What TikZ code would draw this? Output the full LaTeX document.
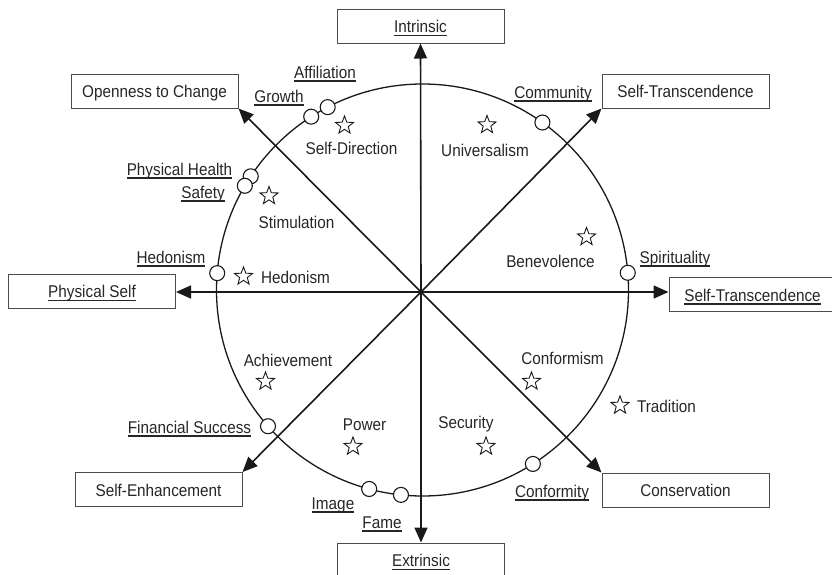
\documentclass[tikz,border=0pt]{standalone}
\usepackage{fontspec}
\setmainfont{Liberation Sans}[FakeStretch=0.9]
\usetikzlibrary{arrows.meta,shapes.geometric,calc}
\newcommand\ulab[1]{\sbox0{#1}\rlap{\rule[-3.7pt]{\wd0}{1.5pt}}\usebox0}
\begin{document}
\begin{tikzpicture}[x=1pt,y=-1pt,
  every node/.style={font=\fontsize{17}{20}\selectfont, text=black!85},
  box/.style={draw=black!70, line width=1pt, minimum width=167pt, minimum height=34pt, inner sep=0pt, text height=13pt, text depth=0pt},
  lab/.style={anchor=base, inner sep=0pt},
  axis/.style={draw=black!90, line width=1.6pt, -{Triangle[length=15pt,width=13pt]}},
  dotc/.style={circle, draw=black!90, fill=white, line width=1.1pt, minimum size=15pt, inner sep=0pt},
  starn/.style={star, star points=5, star point ratio=2.4, draw=black!90, line width=0.9pt, minimum size=19pt, inner sep=0pt}
]
\useasboundingbox (0,0) rectangle (832,574);

% boxes
\node[box] (intr) at (420.5,26) {\ulab{Intrinsic}};
\node[box] (open) at (154.5,91) {Openness to Change};
\node[box] (st1) at (685.5,91) {Self-Transcendence};
\node[box] (phys) at (92,291) {\ulab{Physical Self}};
\node[box] (st2) at (752.5,294.5) {\ulab{Self-Transcendence}};
\node[box] (senh) at (158.5,489.5) {Self-Enhancement};
\node[box] (cons) at (685.5,490) {Conservation};
\node[box] (extr) at (421,560) {\ulab{Extrinsic}};

% circle and axes
\coordinate (O) at (421,292);
\coordinate (C) at (422.5,290);
\draw[line width=1.3pt, draw=black!90] (C) circle[radius=206pt];
\draw[axis] (O) -- (intr.south);
\draw[axis] (O) -- (extr.north);
\draw[axis] (O) -- (O -| phys.east);
\draw[axis] (O) -- (O -| st2.west);
\draw[axis] (O) -- (open.south east);
\draw[axis] (O) -- (st1.south west);
\draw[axis] (O) -- (senh.north east);
\draw[axis] (O) -- (cons.north west);

% markers on the circle
\node[dotc] (mcom) at ([shift={(C)}]54.4:206pt) {};
\node[dotc] (maff) at ([shift={(C)}]117.4:206pt) {};
\node[dotc] (mgro) at ([shift={(C)}]122.7:206pt) {};
\node[dotc] (mphh) at ([shift={(C)}]146.5:206pt) {};
\node[dotc] (msaf) at ([shift={(C)}]149.6:206pt) {};
\node[dotc] (mhed) at ([shift={(C)}]175.3:206pt) {};
\node[dotc] (mspi) at ([shift={(C)}]4.8:206pt) {};
\node[dotc] (mfin) at ([shift={(C)}]221.4:206pt) {};
\node[dotc] (mimg) at ([shift={(C)}]255:206pt) {};
\node[dotc] (mfam) at ([shift={(C)}]264:206pt) {};
\node[dotc] (mcnf) at ([shift={(C)}]302.4:206pt) {};

% underlined goal labels
\node[lab] (laff) at (325,78) {\ulab{Affiliation}};
\node[lab] (lgro) at (279,102) {\ulab{Growth}};
\node[lab] (lphh) at (179.5,175) {\ulab{Physical Health}};
\node[lab] (lsaf) at (203,198) {\ulab{Safety}};
\node[lab] (lcom) at (553,98) {\ulab{Community}};
\node[lab] (lhed) at (171,263) {\ulab{Hedonism}};
\node[lab] (lspi) at (675,263) {\ulab{Spirituality}};
\node[lab] (lfin) at (189.5,433) {\ulab{Financial Success}};
\node[lab] (limg) at (333,509) {\ulab{Image}};
\node[lab] (lfam) at (382,528) {\ulab{Fame}};
\node[lab] (lcnf) at (552,497) {\ulab{Conformity}};

% value labels
\node[lab] (vsd) at (351.5,154) {Self-Direction};
\node[lab] (vsti) at (296.5,228) {Stimulation};
\node[lab] (vuni) at (485,156) {Universalism};
\node[lab] (vhed) at (295.5,283) {Hedonism};
\node[lab] (vben) at (550.5,267) {Benevolence};
\node[lab] (vach) at (288,366) {Achievement};
\node[lab] (vpow) at (364.5,430) {Power};
\node[lab] (vsec) at (466,428) {Security};
\node[lab] (vcon) at (562.5,364) {Conformism};
\node[lab] (vtra) at (666.5,412) {Tradition};

% stars
\node[starn] (ssd) at (344.5,125.4) {};
\node[starn] (ssti) at (269,195.9) {};
\node[starn] (suni) at (487,124.9) {};
\node[starn] (shed) at (243.5,276.4) {};
\node[starn] (sben) at (586.5,236.9) {};
\node[starn] (sach) at (265.5,381.4) {};
\node[starn] (spow) at (353,446.4) {};
\node[starn] (ssec) at (486,446.4) {};
\node[starn] (scon) at (531.5,381.4) {};
\node[starn] (stra) at (620,405.4) {};
\end{tikzpicture}
\end{document}
